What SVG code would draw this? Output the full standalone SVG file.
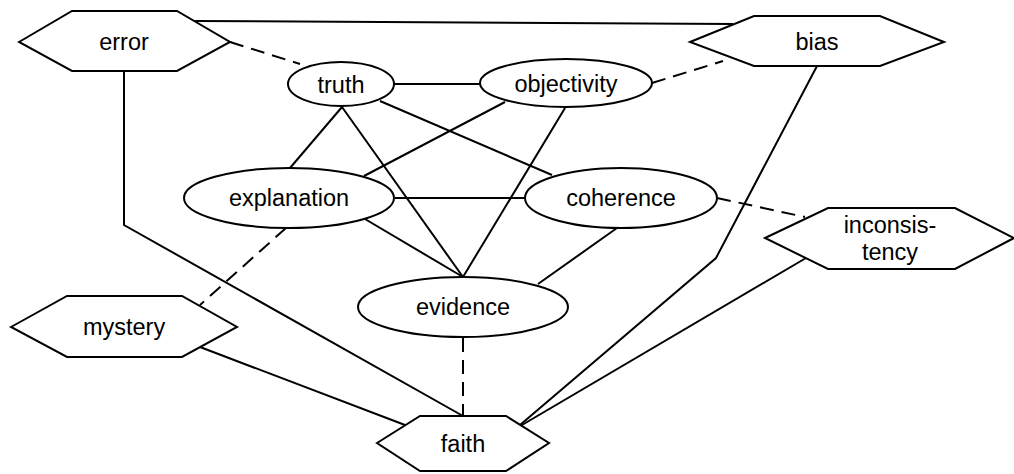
<svg xmlns="http://www.w3.org/2000/svg" width="1014" height="474" viewBox="0 0 1014 474">
<style>
.n{fill:#fff;stroke:#000;stroke-width:2}
.t{font-family:"Liberation Sans",Arial,Helvetica,sans-serif;font-size:23.5px;fill:#000;text-anchor:middle}
.e{fill:none;stroke:#000;stroke-width:2}
.d{fill:none;stroke:#000;stroke-width:2;stroke-dasharray:14 8}
</style>
<rect width="1014" height="474" fill="#fff"/>
<g id="edges">
<line class="e" x1="195" y1="21" x2="733" y2="24"/>
<line class="d" x1="230" y1="42" x2="300" y2="64"/>
<polyline class="e" points="124,71 124,225 463,416"/>
<polyline class="e" points="817,66 716,258 520,425"/>
<line class="e" x1="806" y1="258" x2="522" y2="425"/>
<line class="e" x1="200" y1="347" x2="405" y2="425"/>
<line class="d" x1="286" y1="228" x2="200" y2="305"/>
<line class="d" x1="463" y1="338" x2="463" y2="416"/>
<line class="e" x1="394" y1="84" x2="480" y2="84"/>
<line class="d" x1="652" y1="83" x2="723" y2="61"/>
<line class="e" x1="342" y1="107" x2="290" y2="168"/>
<line class="e" x1="342" y1="107" x2="463" y2="277"/>
<line class="e" x1="380" y1="101" x2="552" y2="175"/>
<line class="e" x1="505" y1="102" x2="364" y2="176"/>
<line class="e" x1="565" y1="108" x2="463" y2="277"/>
<line class="e" x1="395" y1="198" x2="525" y2="198"/>
<line class="e" x1="365" y1="219" x2="463" y2="277"/>
<line class="e" x1="617" y1="228" x2="538" y2="284"/>
<line class="d" x1="717" y1="198" x2="805" y2="217"/>
</g>
<g id="error"><polygon class="n" points="19,42 72,11 177,11 230,42 177,71 72,71"/><text class="t" x="124" y="50">error</text></g>
<g id="bias"><polygon class="n" points="690,42 754,16 880,16 944,42 880,66 754,66"/><text class="t" x="817" y="50">bias</text></g>
<g id="truth"><ellipse class="n" cx="341" cy="84" rx="53" ry="22"/><text class="t" x="341" y="93">truth</text></g>
<g id="objectivity"><ellipse class="n" cx="566" cy="83" rx="86" ry="24"/><text class="t" x="566" y="92">objectivity</text></g>
<g id="explanation"><ellipse class="n" cx="289" cy="198" rx="105" ry="30"/><text class="t" x="289" y="206">explanation</text></g>
<g id="coherence"><ellipse class="n" cx="621" cy="198" rx="96" ry="30"/><text class="t" x="621" y="206">coherence</text></g>
<g id="inconsistency"><polygon class="n" points="765,238 828,208 955,208 1014,238 955,269 828,269"/><text class="t" x="890" y="233">inconsis-</text><text class="t" x="890" y="260">tency</text></g>
<g id="evidence"><ellipse class="n" cx="463" cy="307" rx="105" ry="30"/><text class="t" x="463" y="315">evidence</text></g>
<g id="mystery"><polygon class="n" points="11,327 67,296 182,296 237,327 182,357 67,357"/><text class="t" x="124" y="335">mystery</text></g>
<g id="faith"><polygon class="n" points="377,443 420,416 506,416 549,443 506,471 420,471"/><text class="t" x="463" y="452">faith</text></g>
</svg>
